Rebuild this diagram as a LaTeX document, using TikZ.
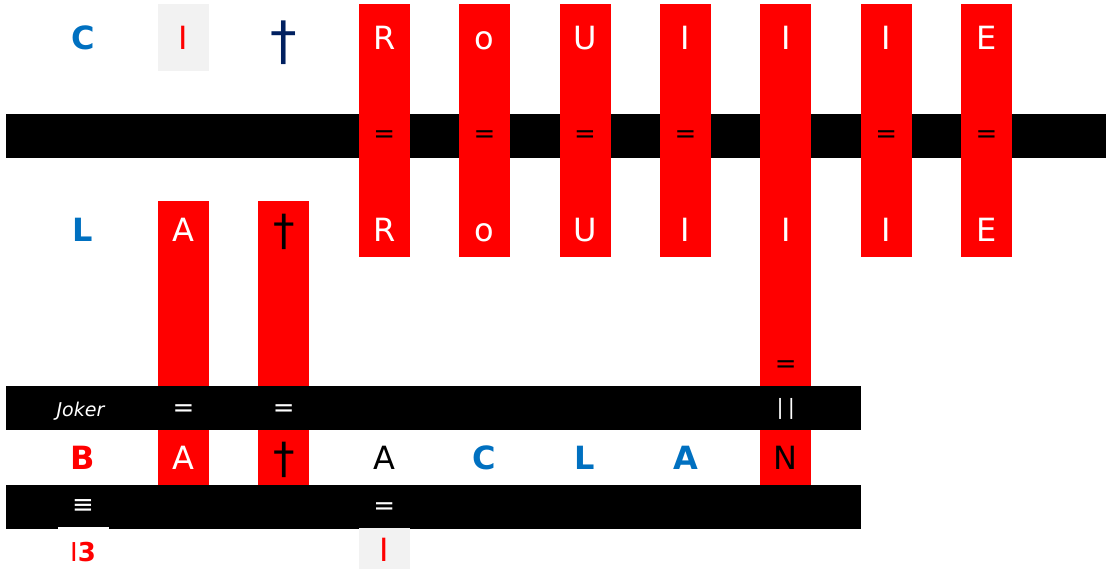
\documentclass[tikz,border=0pt]{standalone}
\usepackage{fontspec}
\setmainfont{DejaVu Sans}
\usepackage{xcolor}
\usepackage{tikz}
\usetikzlibrary{positioning}

\definecolor{xlblue}{HTML}{0070C0}
\definecolor{xlnavy}{HTML}{002060}
\definecolor{xlgray}{HTML}{F2F2F2}

\begin{document}
\begin{tikzpicture}[
  x=1pt, y=-1pt,
  font=\fontsize{32}{38}\selectfont,
  bar/.style    ={fill=black,inner sep=0pt,minimum height=44pt,anchor=west},
  redcol/.style ={fill=red,inner sep=0pt,minimum width=51pt,anchor=north},
  cellbox/.style={inner sep=0pt,minimum width=51pt,anchor=north},
  ch/.style     ={inner sep=0pt,text height=23pt,text depth=0pt},
  wch/.style    ={ch,text=white},
  bch/.style    ={ch,text=black},
  blu/.style    ={ch,text=xlblue,font=\fontsize{32}{38}\selectfont\bfseries},
  eqs/.style    ={inner sep=0pt,font=\fontsize{26}{30}\selectfont},
  dag/.style    ={inner sep=0pt,font=\fontsize{43}{50}\selectfont}]

\useasboundingbox (0,0) rectangle (1106,569);

% column and row positions
\foreach \i in {0,...,9} \coordinate (c\i) at ({83+100.4*\i},0);
\coordinate (ytop) at (0,4);
\coordinate (ylow) at (0,201);
\coordinate (r1) at (0,38.5);
\coordinate (rq) at (0,136.5);
\coordinate (rl) at (0,230);
\coordinate (rb) at (0,458);

%---------------- bars and columns ----------------
\node[bar,minimum width=1100pt] (bar1) at (6,136) {};
\foreach \i in {3,4,5,6,8,9}
  \node[redcol,minimum height=253pt] (col\i) at (c\i |- ytop) {};
\node[redcol,minimum height=481pt] (col7) at (c7 |- ytop) {};
\node[redcol,minimum height=284pt] (col1) at (c1 |- ylow) {};
\node[redcol,minimum height=284pt] (col2) at (c2 |- ylow) {};
\node[bar,minimum width=855pt] (jbar) at (6,408) {};
\node[bar,minimum width=855pt] (bar3) at (6,507) {};

\node[cellbox,fill=xlgray,minimum height=67pt] (gtop) at (c1 |- ytop) {};
\node[cellbox,fill=xlgray,minimum height=41pt] (gbot) at (c3 |- 0,528) {};
\node[cellbox,fill=white,minimum height=42pt] (wbot) at (c0 |- 0,527) {};

%---------------- top row ----------------
\node[blu] (tC) at (c0 |- r1) {C};
\node[ch,text=red] (tI) at (c1 |- r1) {I};
\node[dag,text=xlnavy,font=\fontsize{53}{60}\selectfont] (tdag) at (c2 |- 0,42.5) {†};
\foreach \i/\t in {3/R,4/o,5/U,6/I,7/I,8/I,9/E} {
  \node[wch] (t\i) at (c\i |- r1) {\t};
  \node[wch] (l\i) at (c\i |- rl) {\t};
}
\foreach \i in {3,4,5,6,8,9}
  \node[eqs] (q\i) at (c\i |- rq) {=};

%---------------- L row ----------------
\node[blu] (lL) at (c0 |- rl) {L};
\node[wch] (lA) at (c1 |- rl) {A};
\node[dag] (ldag) at (c2 |- 0,232) {†};
\node[eqs] (q7) at (c7 |- 0,366.5) {=};

%---------------- Joker bar ----------------
\node[inner sep=0pt,text height=14pt,text depth=0pt,text=white,
      font=\fontsize{19}{23}\selectfont\itshape] (joker) at (80.5,409.5) {Joker};
\node[eqs,text=white] (jq1) at (c1 |- 0,410.5) {=};
\node[eqs,text=white] (jq2) at (c2 |- 0,410.5) {=};
\node[inner sep=0pt,text=white,font=\fontsize{21}{25}\selectfont] (jq7) at (c7 |- 0,409) {|\kern4pt|};

%---------------- B row ----------------
\node[ch,text=red,font=\fontsize{32}{38}\selectfont\bfseries] (bB) at (c0 |- rb) {B};
\node[wch] (bA) at (c1 |- rb) {A};
\node[dag] (bdag) at (c2 |- 0,460) {†};
\node[bch] (bA3) at (c3 |- rb) {A};
\node[blu] (bC) at (c4 |- rb) {C};
\node[blu] (bL) at (c5 |- rb) {L};
\node[blu] (bA6) at (c6 |- rb) {A};
\node[bch] (bN) at (c7 |- rb) {N};

%---------------- bottom bar and row ----------------
\node[eqs,text=white] (zq0) at (c0 |- 0,507) {≡};
\node[eqs,text=white] (zq3) at (c3 |- 0,509) {=};
\node[inner sep=0pt,text height=19pt,text depth=0pt,text=red,
      font=\fontsize{26}{30}\selectfont] (z3) at (c0 |- 0,552) {I\textbf{3}};
\node[ch,text=red] (zI) at (c3 |- 0,550) {I};

\end{tikzpicture}
\end{document}
